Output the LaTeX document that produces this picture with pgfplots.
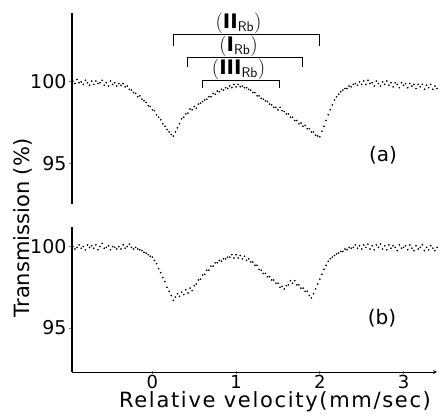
\documentclass[border=0pt]{standalone}
\usepackage{fontspec}
\setmainfont{DejaVu Sans}
\newfontfamily\spaced[LetterSpace=8]{DejaVu Sans}
\usepackage{pgfplots}
\pgfplotsset{compat=1.18}
\usepackage{pgfplotstable}

\pgfplotstableread{
x y
-0.950 100.05
-0.925 99.9
-0.900 100.15
-0.875 99.95
-0.850 100.0
-0.825 99.85
-0.800 100.1
-0.775 99.95
-0.750 99.8
-0.725 100.05
-0.700 99.85
-0.675 100.05
-0.650 99.9
-0.625 99.95
-0.600 100.1
-0.575 99.8
-0.550 99.95
-0.525 99.75
-0.500 100.05
-0.475 99.85
-0.450 99.95
-0.425 99.75
-0.400 99.9
-0.375 99.8
-0.350 99.9
-0.325 99.7
-0.300 99.75
-0.275 99.55
-0.250 99.5
-0.225 99.35
-0.200 99.3
-0.175 99.1
-0.150 99.15
-0.125 98.95
-0.100 98.85
-0.075 98.75
-0.050 98.55
-0.025 98.5
0.000 98.3
0.025 98.25
0.050 98.0
0.075 97.85
0.100 97.7
0.125 97.45
0.150 97.3
0.175 97.1
0.200 96.95
0.225 96.8
0.250 96.7
0.275 96.95
0.300 97.2
0.325 97.45
0.350 97.75
0.375 97.85
0.400 98.05
0.425 98.1
0.450 98.35
0.475 98.3
0.500 98.5
0.525 98.4
0.550 98.65
0.575 98.7
0.600 98.8
0.625 98.9
0.650 98.95
0.675 99.1
0.700 99.1
0.725 99.3
0.750 99.25
0.775 99.45
0.800 99.4
0.825 99.55
0.850 99.5
0.875 99.65
0.900 99.6
0.925 99.75
0.950 99.65
0.975 99.85
1.000 99.7
1.025 99.85
1.050 99.7
1.075 99.75
1.100 99.65
1.125 99.65
1.150 99.55
1.175 99.5
1.200 99.35
1.225 99.35
1.250 99.15
1.275 99.15
1.300 99.0
1.325 98.95
1.350 98.85
1.375 98.8
1.400 98.65
1.425 98.6
1.450 98.45
1.475 98.45
1.500 98.3
1.525 98.45
1.550 98.25
1.575 98.2
1.600 98.05
1.625 98.05
1.650 97.85
1.675 97.85
1.700 97.65
1.725 97.65
1.750 97.45
1.775 97.5
1.800 97.3
1.825 97.35
1.850 97.15
1.875 97.15
1.900 96.95
1.925 96.95
1.950 96.75
1.975 96.7
2.000 96.65
2.025 97.0
2.050 97.3
2.075 97.65
2.100 98.0
2.125 98.3
2.150 98.6
2.175 98.9
2.200 99.1
2.225 99.25
2.250 99.4
2.275 99.5
2.300 99.6
2.325 99.6
2.350 99.75
2.375 99.7
2.400 99.85
2.425 99.9
2.450 99.8
2.475 100.0
2.500 99.85
2.525 100.05
2.550 99.85
2.575 100.1
2.600 99.9
2.625 99.95
2.650 99.75
2.675 100.05
2.700 99.9
2.725 99.75
2.750 100.0
2.775 99.85
2.800 100.05
2.825 99.8
2.850 99.95
2.875 99.7
2.900 99.95
2.925 99.85
2.950 99.65
2.975 99.95
3.000 99.8
3.025 99.9
3.050 99.65
3.075 99.9
3.100 99.75
3.125 99.85
3.150 99.6
3.175 99.85
3.200 99.7
3.225 99.85
3.250 99.55
3.275 99.8
3.300 99.65
3.325 99.85
3.350 99.55
3.375 99.75
3.400 99.6
}\dataa

\pgfplotstableread{
x y
-0.950 100.0
-0.925 99.85
-0.900 99.95
-0.875 100.1
-0.850 99.9
-0.825 100.0
-0.800 99.8
-0.775 100.1
-0.750 99.95
-0.725 100.05
-0.700 99.9
-0.675 100.1
-0.650 99.8
-0.625 100.0
-0.600 100.2
-0.575 99.9
-0.550 99.95
-0.525 100.05
-0.500 99.8
-0.475 100.0
-0.450 99.95
-0.425 99.85
-0.400 100.0
-0.375 99.85
-0.350 100.1
-0.325 99.9
-0.300 100.0
-0.275 100.15
-0.250 99.95
-0.225 99.85
-0.200 99.95
-0.175 99.85
-0.150 99.8
-0.125 99.75
-0.100 99.65
-0.075 99.6
-0.050 99.5
-0.025 99.4
0.000 99.35
0.025 99.15
0.050 98.95
0.075 98.65
0.100 98.4
0.125 98.1
0.150 97.85
0.175 97.5
0.200 97.25
0.225 97.0
0.250 96.7
0.275 96.9
0.300 97.1
0.325 96.95
0.350 97.2
0.375 97.05
0.400 97.35
0.425 97.15
0.450 97.45
0.475 97.3
0.500 97.6
0.525 97.7
0.550 97.95
0.575 98.0
0.600 98.25
0.625 98.3
0.650 98.55
0.675 98.55
0.700 98.8
0.725 98.8
0.750 99.0
0.775 99.0
0.800 99.15
0.825 99.1
0.850 99.25
0.875 99.25
0.900 99.35
0.925 99.35
0.950 99.5
0.975 99.3
1.000 99.5
1.025 99.3
1.050 99.45
1.075 99.25
1.100 99.4
1.125 99.15
1.150 99.25
1.175 99.05
1.200 99.05
1.225 98.85
1.250 98.85
1.275 98.6
1.300 98.55
1.325 98.35
1.350 98.35
1.375 98.15
1.400 98.15
1.425 97.95
1.450 97.95
1.475 97.75
1.500 97.75
1.525 97.5
1.550 97.55
1.575 97.4
1.600 97.6
1.625 97.65
1.650 97.9
1.675 97.75
1.700 97.9
1.725 97.65
1.750 97.65
1.775 97.45
1.800 97.45
1.825 97.25
1.850 97.25
1.875 97.0
1.900 96.85
1.925 97.1
1.950 97.4
1.975 97.7
2.000 98.0
2.025 98.3
2.050 98.6
2.075 98.85
2.100 99.1
2.125 99.25
2.150 99.35
2.175 99.45
2.200 99.55
2.225 99.6
2.250 99.7
2.275 99.7
2.300 99.85
2.325 99.8
2.350 99.95
2.375 99.9
2.400 99.95
2.425 100.1
2.450 99.9
2.475 100.05
2.500 99.85
2.525 100.1
2.550 99.95
2.575 100.15
2.600 99.85
2.625 100.05
2.650 99.8
2.675 100.1
2.700 99.95
2.725 100.15
2.750 99.85
2.775 100.05
2.800 99.8
2.825 100.1
2.850 99.9
2.875 100.05
2.900 99.95
2.925 99.75
2.950 100.1
2.975 99.9
3.000 99.95
3.025 100.05
3.050 99.8
3.075 100.1
3.100 99.9
3.125 99.75
3.150 100.05
3.175 99.85
3.200 99.95
3.225 100.1
3.250 99.75
3.275 99.95
3.300 99.8
3.325 100.05
3.350 99.9
3.375 99.75
3.400 99.95
}\datab

\pgfplotsset{
  common/.style={
    scale only axis, width=365pt,
    xmin=-0.96, xmax=3.4,
    axis y line=left,
    axis line style={-, line width=1.1pt},
    ytick={95,100},
    yticklabel style={font=\fontsize{19}{19}\selectfont, xshift=1pt},
    tick align=outside, major tick length=3pt,
    tick style={line width=1pt},
    /pgf/number format/assume math mode=true,
    clip=false,
  },
  dots/.style={only marks, mark=*, mark size=0.6pt, black},
}
\tikzset{brlab/.style={font=\fontsize{20}{20}\selectfont, inner sep=0pt}}

\begin{document}
\begin{tikzpicture}
\useasboundingbox (-72pt,-44pt) rectangle (371pt,372pt);
% panel (a)
\begin{axis}[common, at={(0pt,168pt)}, anchor=south west, height=191pt,
  ymin=92.56, ymax=104.2, axis x line=none]
\addplot[dots] table {\dataa};
% brackets
\draw[line width=1.2pt] (axis cs:0.25,102.2) -- (axis cs:0.25,102.87) -- (axis cs:2.0,102.87) -- (axis cs:2.0,102.2);
\draw[line width=1.2pt] (axis cs:0.42,100.9) -- (axis cs:0.42,101.5) -- (axis cs:1.79,101.5) -- (axis cs:1.79,100.9);
\draw[line width=1.2pt] (axis cs:0.60,99.6) -- (axis cs:0.60,100.1) -- (axis cs:1.52,100.1) -- (axis cs:1.52,99.6);
\node[brlab] at (axis cs:1.03,103.55) {$\bigl(\mathbf{II}_{\mathsf{Rb}}\bigr)$};
\node[brlab] at (axis cs:1.03,102.15) {$\bigl(\mathbf{I}_{\mathsf{Rb}}\bigr)$};
\node[brlab] at (axis cs:1.03,100.75) {$\bigl(\mathbf{III}_{\mathsf{Rb}}\bigr)$};
\end{axis}
% panel (b)
\begin{axis}[common, at={(0pt,0pt)}, anchor=south west, height=145pt,
  ymin=92.3, ymax=101.2, axis x line=bottom,
  xtick={0,1,2,3},
  xticklabel style={font=\fontsize{18}{18}\selectfont, yshift=2pt},
  x axis line style={line width=0.8pt}]
\addplot[dots] table {\datab};
\end{axis}
% labels
\node[font=\fontsize{20}{20}\selectfont] at (311pt,217pt) {(a)};
\node[font=\fontsize{20}{20}\selectfont] at (310pt,54pt) {(b)};
\node[font=\fontsize{21}{21}\selectfont, rotate=90] at (-49pt,144pt) {Transmission (\%)};
\node[font=\fontsize{21}{21}\spaced] at (203pt,-30pt) {Relative velocity(mm/sec)};
\end{tikzpicture}
\end{document}
